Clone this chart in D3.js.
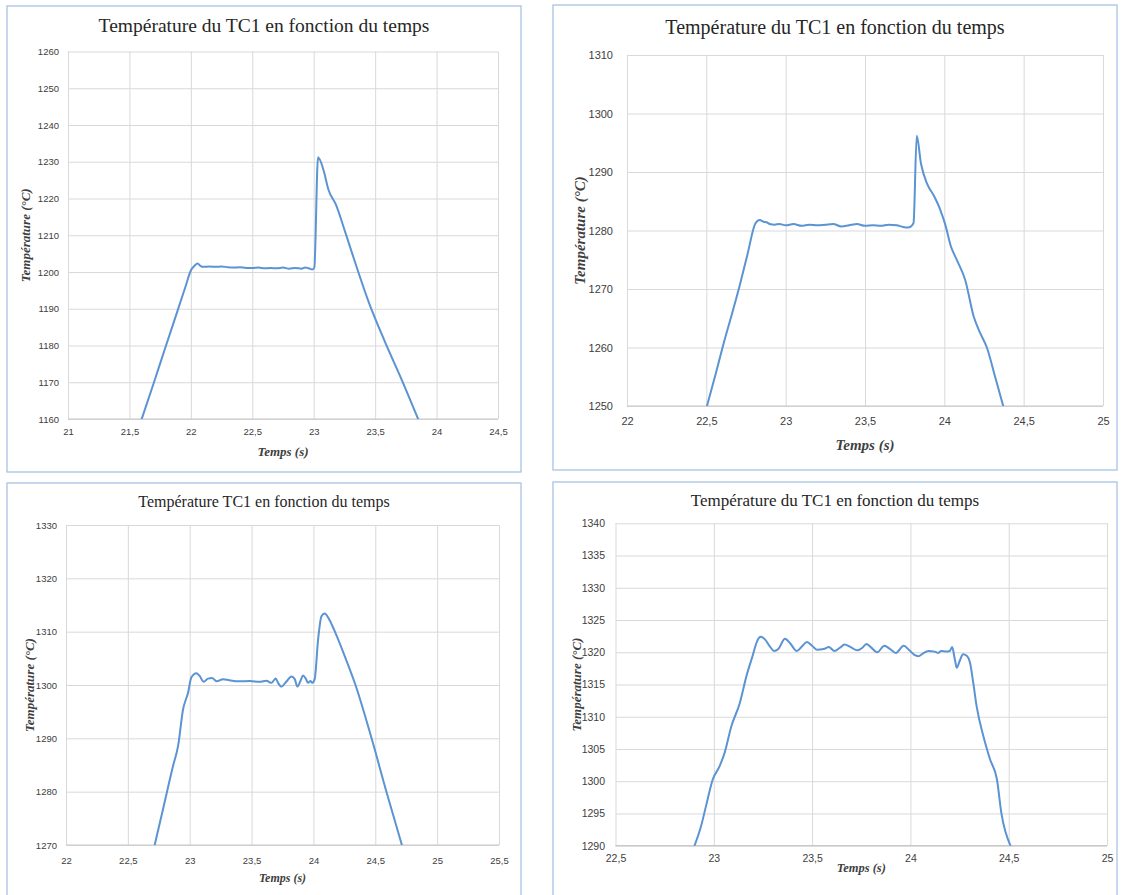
<!DOCTYPE html>
<html>
<head>
<meta charset="utf-8">
<script src="https://cdn.jsdelivr.net/npm/d3@7"></script>
<style>
  html, body { margin: 0; padding: 0; background: #ffffff; }
  svg { display: block; }
</style>
</head>
<body>
<svg id="chart" width="1121" height="895"></svg>
<script>
// ---------- DATA ----------
const titles = [
  "Température du TC1 en fonction du temps",
  "Température du TC1 en fonction du temps",
  "Température TC1 en fonction du temps",
  "Température du TC1 en fonction du temps"
];
const xAxisTitle = "Temps (s)";
const yAxisTitle = "Température (°C)";

// Panel 1
const xTicks1 = [21, 21.5, 22, 22.5, 23, 23.5, 24, 24.5];
const yTicks1 = [1160, 1170, 1180, 1190, 1200, 1210, 1220, 1230, 1240, 1250, 1260];
const time1 = [21.60, 21.70, 21.80, 21.90, 21.96, 22.00, 22.03, 22.055, 22.08, 22.10, 22.15, 22.20, 22.25, 22.30,
  22.35, 22.40, 22.45, 22.50, 22.55, 22.60, 22.65, 22.70, 22.75, 22.80, 22.85, 22.90, 22.93, 22.96, 22.99, 23.005,
  23.035, 23.08, 23.12, 23.18, 23.26, 23.34, 23.45, 23.58, 23.72, 23.85];
const temp1 = [1160, 1170.0, 1180.2, 1190.3, 1196.4, 1200.4, 1201.7, 1202.3, 1201.6, 1201.4, 1201.5, 1201.4, 1201.5, 1201.3,
  1201.2, 1201.3, 1201.1, 1201.1, 1201.2, 1201.0, 1201.1, 1201.0, 1201.2, 1200.9, 1201.1, 1200.9, 1201.2, 1201.0, 1200.7, 1201.2,
  1231.2, 1227.7, 1222.4, 1218.4, 1210.5, 1202.3, 1191.6, 1181.0, 1170.4, 1160];

// Panel 2
const xTicks2 = [22, 22.5, 23, 23.5, 24, 24.5, 25];
const yTicks2 = [1250, 1260, 1270, 1280, 1290, 1300, 1310];
const time2 = [22.504, 22.56, 22.609, 22.66, 22.714, 22.76, 22.809, 22.836, 22.86, 22.88, 22.90, 22.93, 22.96, 23.00,
  23.05, 23.10, 23.15, 23.20, 23.25, 23.30, 23.35, 23.40, 23.45, 23.50, 23.55, 23.60, 23.65, 23.70, 23.74, 23.77,
  23.79, 23.806, 23.826, 23.853, 23.891, 23.933, 23.975, 24.006, 24.04, 24.08, 24.132, 24.185, 24.227, 24.268, 24.32, 24.371];
const temp2 = [1250, 1255.6, 1260.7, 1265.6, 1271.0, 1276.0, 1281.2, 1281.8, 1281.5, 1281.4, 1281.1, 1281.0, 1281.1, 1280.9,
  1281.1, 1280.8, 1281.0, 1280.9, 1281.0, 1281.1, 1280.7, 1280.9, 1281.1, 1280.8, 1280.9, 1280.8, 1281.0, 1280.9, 1280.6, 1280.5,
  1280.7, 1281.3, 1296.2, 1291.4, 1288.0, 1286.0, 1283.5, 1281.0, 1277.4, 1274.9, 1271.5, 1265.3, 1262.4, 1260.0, 1255.0, 1250];

// Panel 3
const xTicks3 = [22, 22.5, 23, 23.5, 24, 24.5, 25, 25.5];
const yTicks3 = [1270, 1280, 1290, 1300, 1310, 1320, 1330];
const time3 = [22.717, 22.784, 22.865, 22.906, 22.946, 22.987, 23.013, 23.054, 23.08, 23.113, 23.148, 23.18, 23.22, 23.27,
  23.32, 23.40, 23.485, 23.566, 23.62, 23.66, 23.695, 23.714, 23.741, 23.78, 23.822, 23.849, 23.87, 23.895, 23.916, 23.938,
  23.957, 23.976, 23.99, 24.01, 24.038, 24.065, 24.09, 24.13, 24.17, 24.26, 24.34, 24.47, 24.59, 24.715];
const temp3 = [1270.0, 1276.7, 1284.8, 1288.6, 1295.4, 1298.6, 1301.4, 1302.2, 1301.7, 1300.6, 1301.2, 1301.3, 1300.7, 1301.1,
  1300.9, 1300.7, 1300.75, 1300.6, 1300.8, 1300.4, 1301.2, 1300.4, 1299.7, 1300.6, 1301.6, 1301.1, 1299.7, 1300.75, 1301.8, 1301.2,
  1300.4, 1300.75, 1300.4, 1301.1, 1308.6, 1312.9, 1313.4, 1312.2, 1310.2, 1305.0, 1300.0, 1290.0, 1280.0, 1270.0];

// Panel 4
const xTicks4 = [22.5, 23, 23.5, 24, 24.5, 25];
const yTicks4 = [1290, 1295, 1300, 1305, 1310, 1315, 1320, 1325, 1330, 1335, 1340];
const time4 = [22.902, 22.935, 22.96, 22.995, 23.029, 23.055, 23.089, 23.132, 23.166, 23.197, 23.22, 23.238, 23.26, 23.285,
  23.306, 23.328, 23.362, 23.388, 23.422, 23.448, 23.474, 23.50, 23.525, 23.559, 23.585, 23.614, 23.641, 23.665, 23.696, 23.73,
  23.756, 23.776, 23.798, 23.832, 23.867, 23.897, 23.926, 23.966, 23.995, 24.02, 24.041, 24.063, 24.092, 24.123, 24.14,
  24.157, 24.183, 24.20, 24.212, 24.226, 24.236, 24.25, 24.268, 24.285, 24.303, 24.32, 24.337, 24.371, 24.405, 24.44, 24.463, 24.509];
const temp4 = [1290.0, 1293.0, 1296.1, 1300.3, 1302.3, 1304.4, 1308.5, 1312.1, 1316.3, 1319.4, 1321.7, 1322.4, 1322.0, 1320.9,
  1320.2, 1320.5, 1322.1, 1321.4, 1320.2, 1320.9, 1321.6, 1321.0, 1320.4, 1320.5, 1320.8, 1320.2, 1320.7, 1321.2, 1320.8, 1320.3,
  1320.7, 1321.3, 1320.8, 1320.0, 1321.0, 1320.5, 1319.9, 1321.0, 1320.3, 1319.6, 1319.4, 1319.8, 1320.2, 1320.1, 1319.9,
  1320.2, 1320.1, 1320.2, 1320.8, 1318.9, 1317.6, 1318.6, 1319.7, 1319.5, 1318.4, 1315.2, 1311.6, 1307.0, 1303.4, 1300.3, 1295.0, 1290.0];

// ---------- LAYOUT ----------
const panels = [
  { title: titles[0], time: time1, temp: temp1, xTicks: xTicks1, yTicks: yTicks1,
    frame: [7, 6, 521, 472], plot: [68, 498, 51.5, 419],
    titleSize: 19.5, titleY: 32, xtSize: 13, xtY: 456, ytSize: 13, ytX: 29.5,
    tickSize: 9.5, yLabRight: 59, xLabY: 433 },
  { title: titles[1], time: time2, temp: temp2, xTicks: xTicks2, yTicks: yTicks2,
    frame: [553, 5, 1117, 470], plot: [627, 1103, 55, 406],
    titleSize: 20, titleY: 34, xtSize: 15, xtY: 450, ytSize: 15, ytX: 585,
    tickSize: 11, yLabRight: 613, xLabY: 423 },
  { title: titles[2], time: time3, temp: temp3, xTicks: xTicks3, yTicks: yTicks3,
    frame: [7, 483, 521, 905], plot: [66, 499, 525, 845],
    titleSize: 16, titleY: 507, xtSize: 12, xtY: 882, ytSize: 13, ytX: 34,
    tickSize: 9.5, yLabRight: 57, xLabY: 862 },
  { title: titles[3], time: time4, temp: temp4, xTicks: xTicks4, yTicks: yTicks4,
    frame: [553, 482, 1117, 905], plot: [615.5, 1107, 523.3, 845.7],
    titleSize: 17, titleY: 506, xtSize: 12.5, xtY: 872, ytSize: 13, ytX: 581,
    tickSize: 10.5, yLabRight: 605, xLabY: 860 }
];

const svg = d3.select("#chart");
const fmt = v => String(v).replace(".", ",");
const lineColor = "#5b93d3";
const gridColor = "#d9d9d9";

panels.forEach((p, i) => {
  const [fx0, fy0, fx1, fy1] = p.frame;
  const [pl, pr, pt, pb] = p.plot;
  const g = svg.append("g");

  g.append("rect")
    .attr("x", fx0).attr("y", fy0)
    .attr("width", fx1 - fx0).attr("height", fy1 - fy0)
    .attr("fill", "#ffffff")
    .attr("stroke", "#a8c3e3").attr("stroke-width", 1.3);

  const x = d3.scaleLinear().domain(d3.extent(p.xTicks)).range([pl, pr]);
  const y = d3.scaleLinear().domain(d3.extent(p.yTicks)).range([pb, pt]);

  const yGrid = g.append("g").attr("transform", `translate(${pl},0)`)
    .call(d3.axisLeft(y).tickValues(p.yTicks).tickSize(-(pr - pl)).tickFormat(""));
  yGrid.select(".domain").remove();
  yGrid.selectAll("line").attr("stroke", gridColor).attr("stroke-width", 1);

  const xGrid = g.append("g").attr("transform", `translate(0,${pt})`)
    .call(d3.axisBottom(x).tickValues(p.xTicks).tickSize(pb - pt).tickFormat(""));
  xGrid.select(".domain").remove();
  xGrid.selectAll("line").attr("stroke", gridColor).attr("stroke-width", 1);

  g.append("line").attr("x1", pl).attr("x2", pr).attr("y1", y(p.yTicks[0])).attr("y2", y(p.yTicks[0]))
    .attr("stroke", "#c8c8c8").attr("stroke-width", 1.2);

  const yAx = g.append("g").attr("transform", `translate(${p.yLabRight},0)`)
    .call(d3.axisLeft(y).tickValues(p.yTicks).tickSize(0).tickPadding(0).tickFormat(fmt));
  yAx.select(".domain").remove();
  yAx.selectAll("text")
    .attr("font-family", "'Liberation Sans', Arial, sans-serif")
    .attr("font-size", p.tickSize).attr("fill", "#404040");

  const xAx = g.append("g").attr("transform", `translate(0,${p.xLabY - p.tickSize * 0.55})`)
    .call(d3.axisBottom(x).tickValues(p.xTicks).tickSize(0).tickPadding(0).tickFormat(fmt));
  xAx.select(".domain").remove();
  xAx.selectAll("text")
    .attr("font-family", "'Liberation Sans', Arial, sans-serif")
    .attr("font-size", p.tickSize).attr("fill", "#404040");

  const clipId = "clip" + i;
  svg.append("clipPath").attr("id", clipId).append("rect")
    .attr("x", pl).attr("y", pt - 2).attr("width", pr - pl).attr("height", pb - pt + 2);

  const pts = p.time.map((t, k) => [t, p.temp[k]]);
  const line = d3.line().x(d => x(d[0])).y(d => y(d[1])).curve(d3.curveMonotoneX);
  g.append("path").datum(pts)
    .attr("clip-path", `url(#${clipId})`)
    .attr("d", line)
    .attr("fill", "none")
    .attr("stroke", lineColor).attr("stroke-width", 2)
    .attr("stroke-linejoin", "round").attr("stroke-linecap", "round");

  g.append("text")
    .attr("x", (fx0 + fx1) / 2).attr("y", p.titleY)
    .attr("text-anchor", "middle")
    .attr("font-family", "'Liberation Serif', 'Times New Roman', serif")
    .attr("font-size", p.titleSize).attr("fill", "#262626")
    .text(p.title);

  g.append("text")
    .attr("x", (pl + pr) / 2).attr("y", p.xtY)
    .attr("text-anchor", "middle")
    .attr("font-family", "'Liberation Serif', 'Times New Roman', serif")
    .attr("font-style", "italic").attr("font-weight", "bold")
    .attr("font-size", p.xtSize).attr("fill", "#404040")
    .text(xAxisTitle);

  g.append("text")
    .attr("transform", `translate(${p.ytX},${(pt + pb) / 2}) rotate(-90)`)
    .attr("text-anchor", "middle")
    .attr("font-family", "'Liberation Serif', 'Times New Roman', serif")
    .attr("font-style", "italic").attr("font-weight", "bold")
    .attr("font-size", p.ytSize).attr("fill", "#404040")
    .text(yAxisTitle);
});
</script>
</body>
</html>
